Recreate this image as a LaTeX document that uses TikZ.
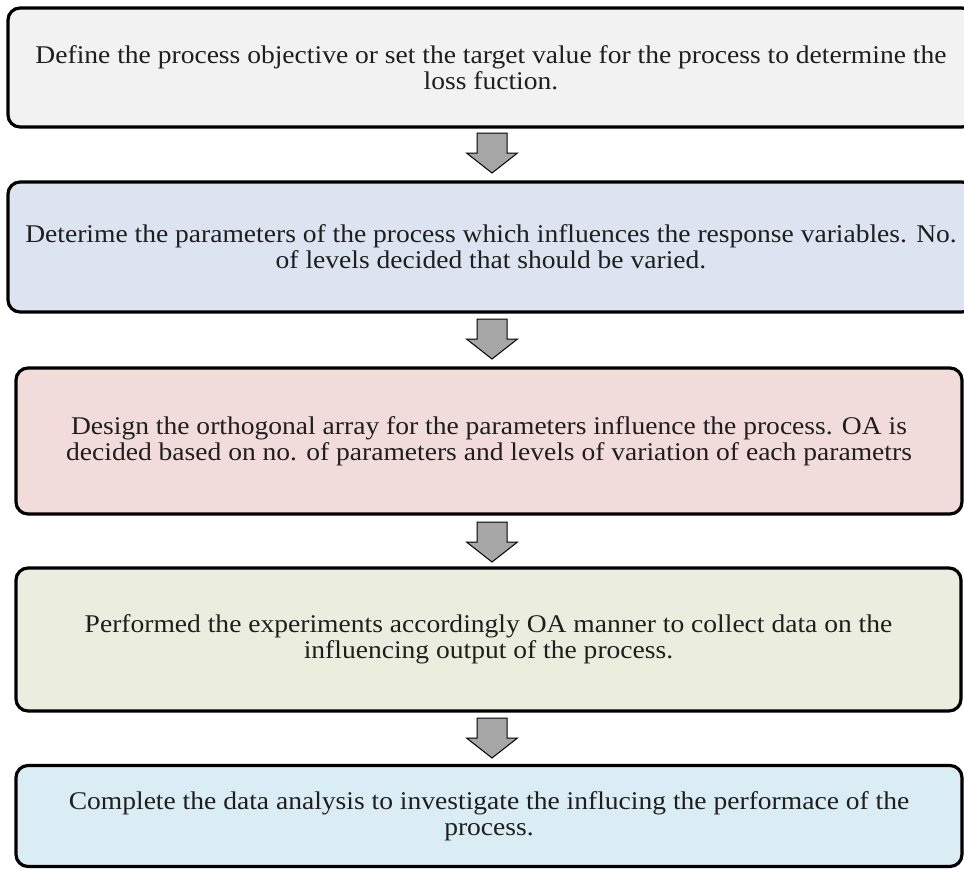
\documentclass[tikz,border=0pt]{standalone}
\usepackage{fontspec}
\setmainfont[FakeStretch=1.08]{Liberation Serif}
\definecolor{cone}{HTML}{F2F2F2}
\definecolor{ctwo}{HTML}{DBE4F0}
\definecolor{cthree}{HTML}{F2DCDB}
\definecolor{cfour}{HTML}{EBEEDE}
\definecolor{cfive}{HTML}{DBEDF4}
\definecolor{arrgray}{HTML}{A6A6A6}
\definecolor{txt}{HTML}{1E1E1E}
\tikzset{
  stepbox/.style={draw=black, line width=3.2pt, rounded corners=12pt, align=center,
    text=txt, font=\fontsize{25.5}{26}\selectfont, inner sep=0pt},
  blockarr/.style={draw=black, line width=1pt, fill=arrgray, line join=miter}
}
\newcommand\blkarrow[1]{%
  \draw[blockarr] (#1) ++(-15,0) -- ++(30,0) -- ++(0,20) -- ++(10.5,0)
    -- ++(-25.5,20) -- ++(-25.5,-20) -- ++(10.5,0) -- cycle;}
\begin{document}
\begin{tikzpicture}[x=1pt,y=-1pt]
\useasboundingbox (0,0) rectangle (964,868);
\node[stepbox, fill=cone, minimum width=966pt, minimum height=119pt] (b1) at (491,67.5)
  {Define the process objective or set the target value for the process to determine the\\ loss fuction.};
\node[stepbox, fill=ctwo, minimum width=966pt, minimum height=130pt] (b2) at (491,247)
  {Deterime the parameters of the process which influences the response variables. No.\\ of levels decided that should be varied.};
\node[stepbox, fill=cthree, minimum width=946pt, minimum height=146pt] (b3) at (489,441)
  {Design the orthogonal array for the parameters influence the process. OA is\\ decided based on no. of parameters and levels of variation of each parametrs};
\node[stepbox, fill=cfour, minimum width=945pt, minimum height=143pt] (b4) at (488.5,639.5)
  {Performed the experiments accordingly OA manner to collect data on the\\ influencing output of the process.};
\node[stepbox, fill=cfive, minimum width=946pt, minimum height=101pt] (b5) at (489,816)
  {Complete the data analysis to investigate the influcing the performace of the\\ process.};
\coordinate (a1) at (492,133);
\coordinate (a2) at (492,319);
\coordinate (a3) at (492,522);
\coordinate (a4) at (492,718);
\blkarrow{a1}
\blkarrow{a2}
\blkarrow{a3}
\blkarrow{a4}
\end{tikzpicture}
\end{document}
